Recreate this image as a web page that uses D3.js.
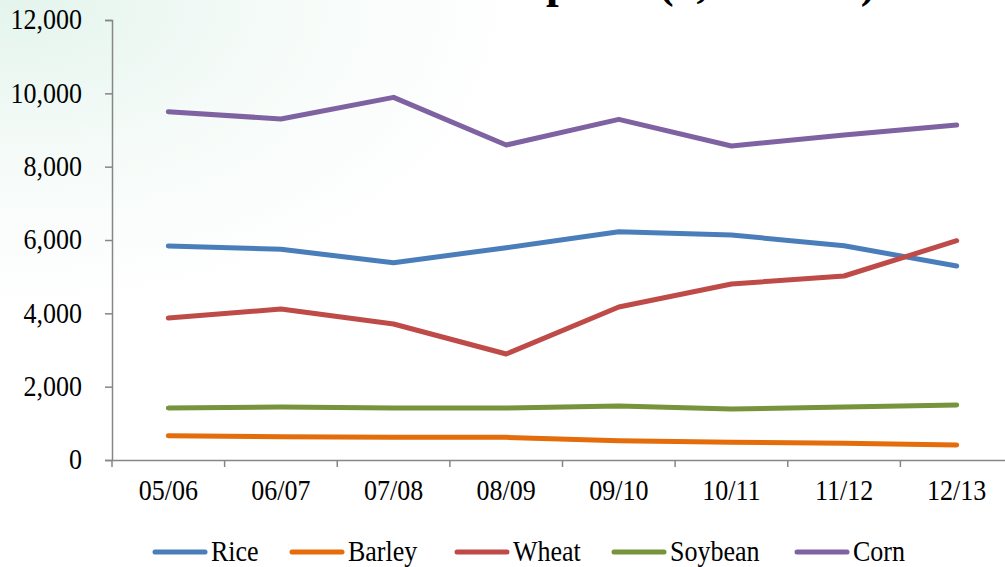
<!DOCTYPE html>
<html><head><meta charset="utf-8">
<script src="https://cdn.jsdelivr.net/npm/d3@7"></script>
<style>html,body{margin:0;padding:0;background:#fff;overflow:hidden}</style>
</head><body>
<svg id="c" width="1005" height="567"></svg>
<script>
const categories = ["05/06","06/07","07/08","08/09","09/10","10/11","11/12","12/13"];
const seriesNames = ["Rice","Barley","Wheat","Soybean","Corn"];
const rice    = [5836,5746,5380,5790,6226,6136,5844,5290];
const barley  = [664,636,618,618,527,482,455,409];
const wheat   = [3873,4118,3709,2891,4172,4800,5018,5981];
const soybean = [1418,1445,1418,1418,1473,1391,1445,1500];
const corn    = [9500,9300,9890,8590,9290,8563,8863,9136];
const yTicks  = [0,2000,4000,6000,8000,10000,12000];
const colors  = ["#4A7EBB","#E46C0A","#BE4B48","#77933C","#7F62A1"];
const title   = "Grain Imports (1,000 MT)";

const svg = d3.select("#c");
const defs = svg.append("defs");
const g1 = defs.append("radialGradient").attr("id","bg").attr("cx","0.02").attr("cy","0").attr("r","0.5")
  .attr("gradientTransform","scale(1,1.1)");
g1.append("stop").attr("offset","0").attr("stop-color","#e4f4ed");
g1.append("stop").attr("offset","0.5").attr("stop-color","#f5fbf8");
g1.append("stop").attr("offset","1").attr("stop-color","#ffffff");
svg.append("rect").attr("width",1005).attr("height",567).attr("fill","url(#bg)");

const font = "Liberation Serif";
const SY = 1.12;
function stretch(sel){
  sel.each(function(){
    const t = d3.select(this);
    const tx = +t.attr("x") || 0, ty = +t.attr("y") || 0;
    t.attr("x",0).attr("y",0).attr("transform",`translate(${tx},${ty}) scale(1,${SY})`);
  });
}

const tt = svg.append("text").attr("x",0).attr("y",-3).attr("font-family",font).attr("font-weight","bold")
  .attr("font-size",45.5).text(title);
const pIdx = title.indexOf("p");
const pPos = tt.node().getStartPositionOfChar(pIdx).x;
tt.attr("x", 546 - pPos);

const data = [rice,barley,wheat,soybean,corn];
const x = d3.scaleBand().domain(categories).range([112,1013]);
const y = d3.scaleLinear().domain([0,12000]).range([460,20]);

const ya = svg.append("g").attr("transform","translate(112,0)")
  .call(d3.axisLeft(y).tickValues(yTicks).tickSize(7).tickPadding(23).tickFormat(d3.format(",")));
ya.select(".domain").attr("stroke","#868686").attr("stroke-width",1.5);
ya.selectAll(".tick line").attr("stroke","#868686").attr("stroke-width",1.5);
ya.selectAll("text").attr("font-family",font).attr("font-size",26).attr("fill","#000").attr("dy","0.30em");
stretch(ya.selectAll("text"));

const xa = svg.append("g").attr("transform","translate(0,460)")
  .call(d3.axisBottom(x).tickSize(0).tickPadding(19));
xa.select(".domain").attr("stroke","#868686").attr("stroke-width",1.5);
xa.selectAll("text").attr("font-family",font).attr("font-size",26).attr("fill","#000");
stretch(xa.selectAll("text"));
xa.selectAll(".btick").data(categories).enter().append("line").attr("class","btick")
  .attr("x1",d=>x(d)).attr("x2",d=>x(d)).attr("y1",0).attr("y2",7)
  .attr("stroke","#868686").attr("stroke-width",1.5);

const line = d3.line().x((d,i)=>x(categories[i])+x.bandwidth()/2).y(d=>y(d));
data.forEach((s,i)=>{
  svg.append("path").attr("d",line(s)).attr("fill","none").attr("stroke",colors[i])
    .attr("stroke-width",5).attr("stroke-linecap","round").attr("stroke-linejoin","round");
});

const legX = [155,292,457,614,797];
const leg = svg.append("g");
seriesNames.forEach((n,i)=>{
  leg.append("line").attr("x1",legX[i]).attr("x2",legX[i]+50).attr("y1",552).attr("y2",552)
    .attr("stroke",colors[i]).attr("stroke-width",5).attr("stroke-linecap","round");
  leg.append("text").attr("x",legX[i]+56).attr("y",561).attr("font-family",font).attr("font-size",26)
    .text(n);
});
stretch(leg.selectAll("text"));
</script>
</body></html>
